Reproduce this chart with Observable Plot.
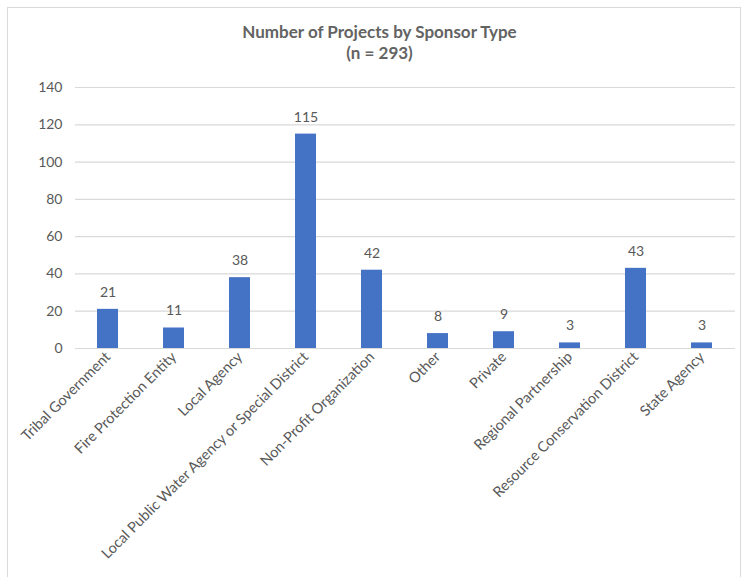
<!DOCTYPE html>
<html><head><meta charset="utf-8">
<script src="https://cdn.jsdelivr.net/npm/d3@7"></script>
<script src="https://cdn.jsdelivr.net/npm/@observablehq/plot@0.6"></script>
<style>
body{margin:0;background:#fff;}
#frame{position:absolute;left:7px;top:7px;width:734px;height:580px;border-top:1px solid #d9d9d9;border-left:1px solid #d9d9d9;border-right:1px solid #d9d9d9;box-sizing:border-box;}
#wrap{position:absolute;left:0;top:0;width:747px;}
#title{height:70px;box-sizing:border-box;padding-top:21px;text-align:center;font-family:Lato,"Open Sans",sans-serif;font-weight:bold;font-size:17px;line-height:21px;color:#636363;padding-left:12px;}
</style></head>
<body>
<div id="frame"></div>
<div id="wrap"><div id="title">Number of Projects by Sponsor Type<br>(n = 293)</div><div id="chart"></div></div>
<script>
const categories = ["Tribal Government","Fire Protection Entity","Local Agency","Local Public Water Agency or Special District","Non-Profit Organization","Other","Private","Regional Partnership","Resource Conservation District","State Agency"];
const counts = [21,11,38,115,42,8,9,3,43,3];
const yTicks = [0,20,40,60,80,100,120,140];
const data = categories.map((c,i)=>({category:c,count:counts[i]}));
const chart = Plot.plot({
  width:747, height:507,
  marginTop:17, marginBottom:229, marginLeft:75, marginRight:12,
  style:{fontFamily:"Lato, 'Open Sans', sans-serif", fontSize:"14px", color:"#595959", background:"transparent"},
  x:{domain:categories, paddingInner:0.68, paddingOuter:0.34, label:null, tickSize:0, tickPadding:8, tickRotate:-45},
  y:{domain:[0,140], ticks:yTicks, label:null, tickSize:0, tickPadding:13, grid:false},
  marks:[
    Plot.ruleY(yTicks,{stroke:"#d9d9d9", strokeWidth:1.2}),
    Plot.barY(data,{x:"category", y:"count", fill:"#4472c4"}),
    Plot.text(data,{x:"category", y:"count", text:d=>String(d.count), dy:-17, fill:"#595959", fontSize:14}),
    Plot.axisY(yTicks,{tickSize:0, tickPadding:13, fill:"#595959", fontSize:14, label:null}),
    Plot.axisX({tickSize:0, tickPadding:6, tickRotate:-45, fill:"#595959", fontSize:14.6, label:null})
  ]
});
document.getElementById("chart").appendChild(chart);
</script>
</body></html>
